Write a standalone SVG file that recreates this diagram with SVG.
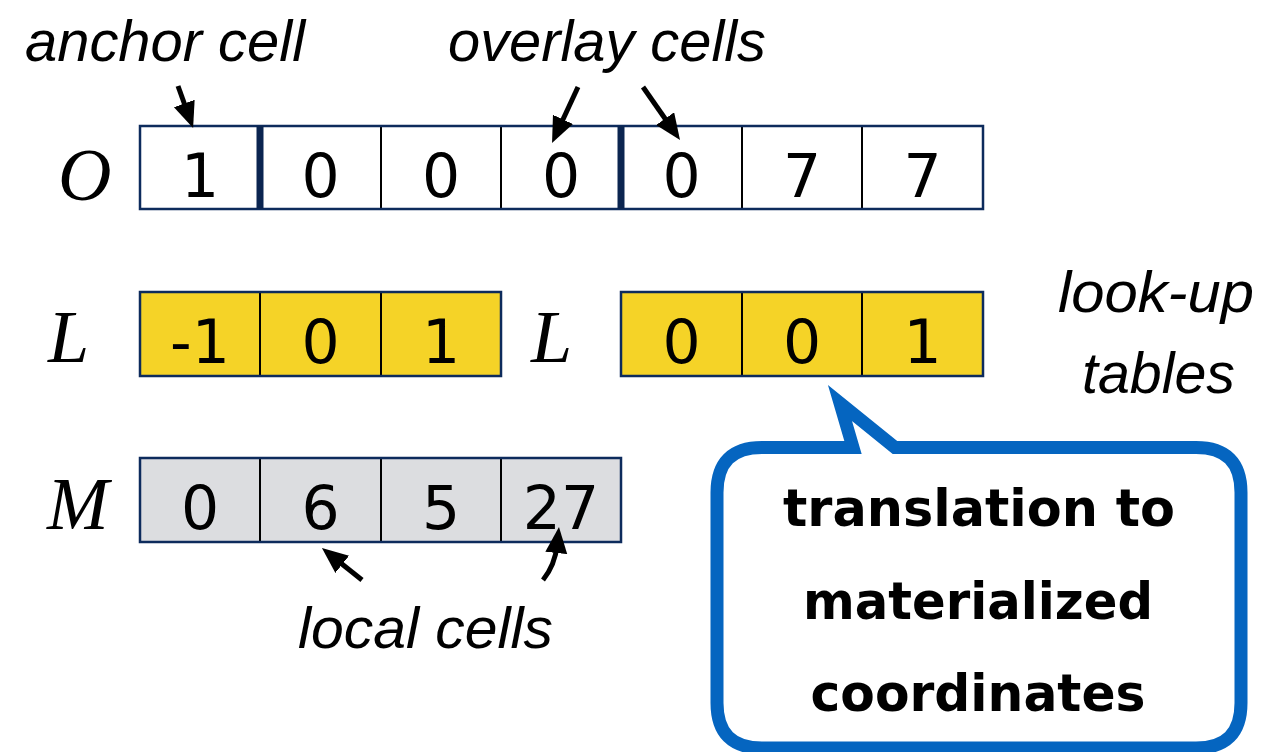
<svg xmlns="http://www.w3.org/2000/svg" width="1282" height="752" viewBox="0 0 1282 752">
  <style>
    .lbl { font-family: "Liberation Sans", Arial, sans-serif; font-style: italic; font-size: 58px; fill: #000; }
    .math { font-family: "Liberation Serif", "Times New Roman", serif; font-style: italic; font-size: 74px; fill: #000; }
    .num { font-family: "DejaVu Sans", "Liberation Sans", sans-serif; font-size: 60px; fill: #000; text-anchor: middle; }
    .bub { font-family: "DejaVu Sans", "Liberation Sans", sans-serif; font-weight: bold; font-size: 52px; fill: #000; text-anchor: middle; }
    .outer { fill: none; stroke: #0d2b5c; stroke-width: 2.5; }
    .div { stroke: #000; stroke-width: 2; }
    .thick { stroke: #0b2550; stroke-width: 7; }
    .arrow { fill: none; stroke: #000; stroke-width: 5; }
  </style>
  <defs>
    <marker id="head" markerUnits="userSpaceOnUse" markerWidth="28" markerHeight="24" refX="8" refY="11" orient="auto">
      <path d="M0,0 L26,11 L0,22 z" fill="#000"/>
    </marker>
  </defs>

  <rect width="1282" height="752" fill="#fff"/>

  <!-- annotation labels -->
  <text class="lbl" x="25" y="61" textLength="280" lengthAdjust="spacingAndGlyphs">anchor cell</text>
  <text class="lbl" x="448" y="61" textLength="318" lengthAdjust="spacingAndGlyphs">overlay cells</text>
  <text class="lbl" x="1058" y="312" font-size="62" textLength="196" lengthAdjust="spacingAndGlyphs">look-up</text>
  <text class="lbl" x="1082" y="393" font-size="62" textLength="153" lengthAdjust="spacingAndGlyphs">tables</text>
  <text class="lbl" x="298" y="648" textLength="255" lengthAdjust="spacingAndGlyphs">local cells</text>

  <!-- row O -->
  <g id="row-O">
    <text class="math" x="58" y="200">O</text>
    <rect x="140" y="126" width="843" height="83" fill="#fff"/>
    <line class="div" x1="381" y1="126" x2="381" y2="209"/>
    <line class="div" x1="501" y1="126" x2="501" y2="209"/>
    <line class="div" x1="742" y1="126" x2="742" y2="209"/>
    <line class="div" x1="862" y1="126" x2="862" y2="209"/>
    <rect class="outer" x="140" y="126" width="843" height="83"/>
    <line class="thick" x1="260" y1="126" x2="260" y2="209"/>
    <line class="thick" x1="621" y1="126" x2="621" y2="209"/>
    <text class="num" x="200" y="197">1</text>
    <text class="num" x="320.5" y="197">0</text>
    <text class="num" x="441" y="197">0</text>
    <text class="num" x="561" y="197">0</text>
    <text class="num" x="681.5" y="197">0</text>
    <text class="num" x="802" y="197">7</text>
    <text class="num" x="922.5" y="197">7</text>
  </g>

  <!-- first look-up table -->
  <g id="table-L1">
    <text class="math" x="48" y="362">L</text>
    <rect x="140" y="292" width="361" height="84" fill="#f5d327"/>
    <line class="div" x1="260" y1="292" x2="260" y2="376"/>
    <line class="div" x1="381" y1="292" x2="381" y2="376"/>
    <rect class="outer" x="140" y="292" width="361" height="84"/>
    <text class="num" x="200" y="363">-1</text>
    <text class="num" x="320.5" y="363">0</text>
    <text class="num" x="441" y="363">1</text>
  </g>

  <!-- second look-up table -->
  <g id="table-L2">
    <text class="math" x="531" y="362">L</text>
    <rect x="621" y="292" width="362" height="84" fill="#f5d327"/>
    <line class="div" x1="742" y1="292" x2="742" y2="376"/>
    <line class="div" x1="862" y1="292" x2="862" y2="376"/>
    <rect class="outer" x="621" y="292" width="362" height="84"/>
    <text class="num" x="681.5" y="363">0</text>
    <text class="num" x="802" y="363">0</text>
    <text class="num" x="922.5" y="363">1</text>
  </g>

  <!-- materialized row M -->
  <g id="row-M">
    <text class="math" x="47" y="529">M</text>
    <rect x="140" y="458" width="481" height="84" fill="#dcdde0"/>
    <line class="div" x1="260" y1="458" x2="260" y2="542"/>
    <line class="div" x1="381" y1="458" x2="381" y2="542"/>
    <line class="div" x1="501" y1="458" x2="501" y2="542"/>
    <rect class="outer" x="140" y="458" width="481" height="84"/>
    <text class="num" x="200" y="529">0</text>
    <text class="num" x="320.5" y="529">6</text>
    <text class="num" x="441" y="529">5</text>
    <text class="num" x="561" y="529">27</text>
  </g>

  <!-- callout -->
  <g id="callout">
    <path d="M853,447.5 L840,403 L895,447.5 L1196,447.5 Q1241,447.5 1241,492.5 L1241,703 Q1241,748 1196,748 L762,748 Q717,748 717,703 L717,492.5 Q717,447.5 762,447.5 Z"
          fill="#fff" stroke="#0565c0" stroke-width="13" stroke-linejoin="miter" stroke-miterlimit="10"/>
    <text class="bub" x="979" y="526" textLength="392" lengthAdjust="spacingAndGlyphs">translation to</text>
    <text class="bub" x="978" y="619" textLength="350" lengthAdjust="spacingAndGlyphs">materialized</text>
    <text class="bub" x="978" y="711" textLength="335" lengthAdjust="spacingAndGlyphs">coordinates</text>
  </g>

  <!-- pointer arrows -->
  <g id="connectors">
    <line class="arrow" x1="178" y1="86" x2="187" y2="111" marker-end="url(#head)"/>
    <line class="arrow" x1="578" y1="87" x2="559.6" y2="126.7" marker-end="url(#head)"/>
    <line class="arrow" x1="643" y1="87" x2="669.7" y2="125.2" marker-end="url(#head)"/>
    <line class="arrow" x1="362" y1="580" x2="336" y2="559.3" marker-end="url(#head)"/>
    <path class="arrow" d="M543,580 Q555,565 557.1,545" marker-end="url(#head)"/>
  </g>
</svg>
